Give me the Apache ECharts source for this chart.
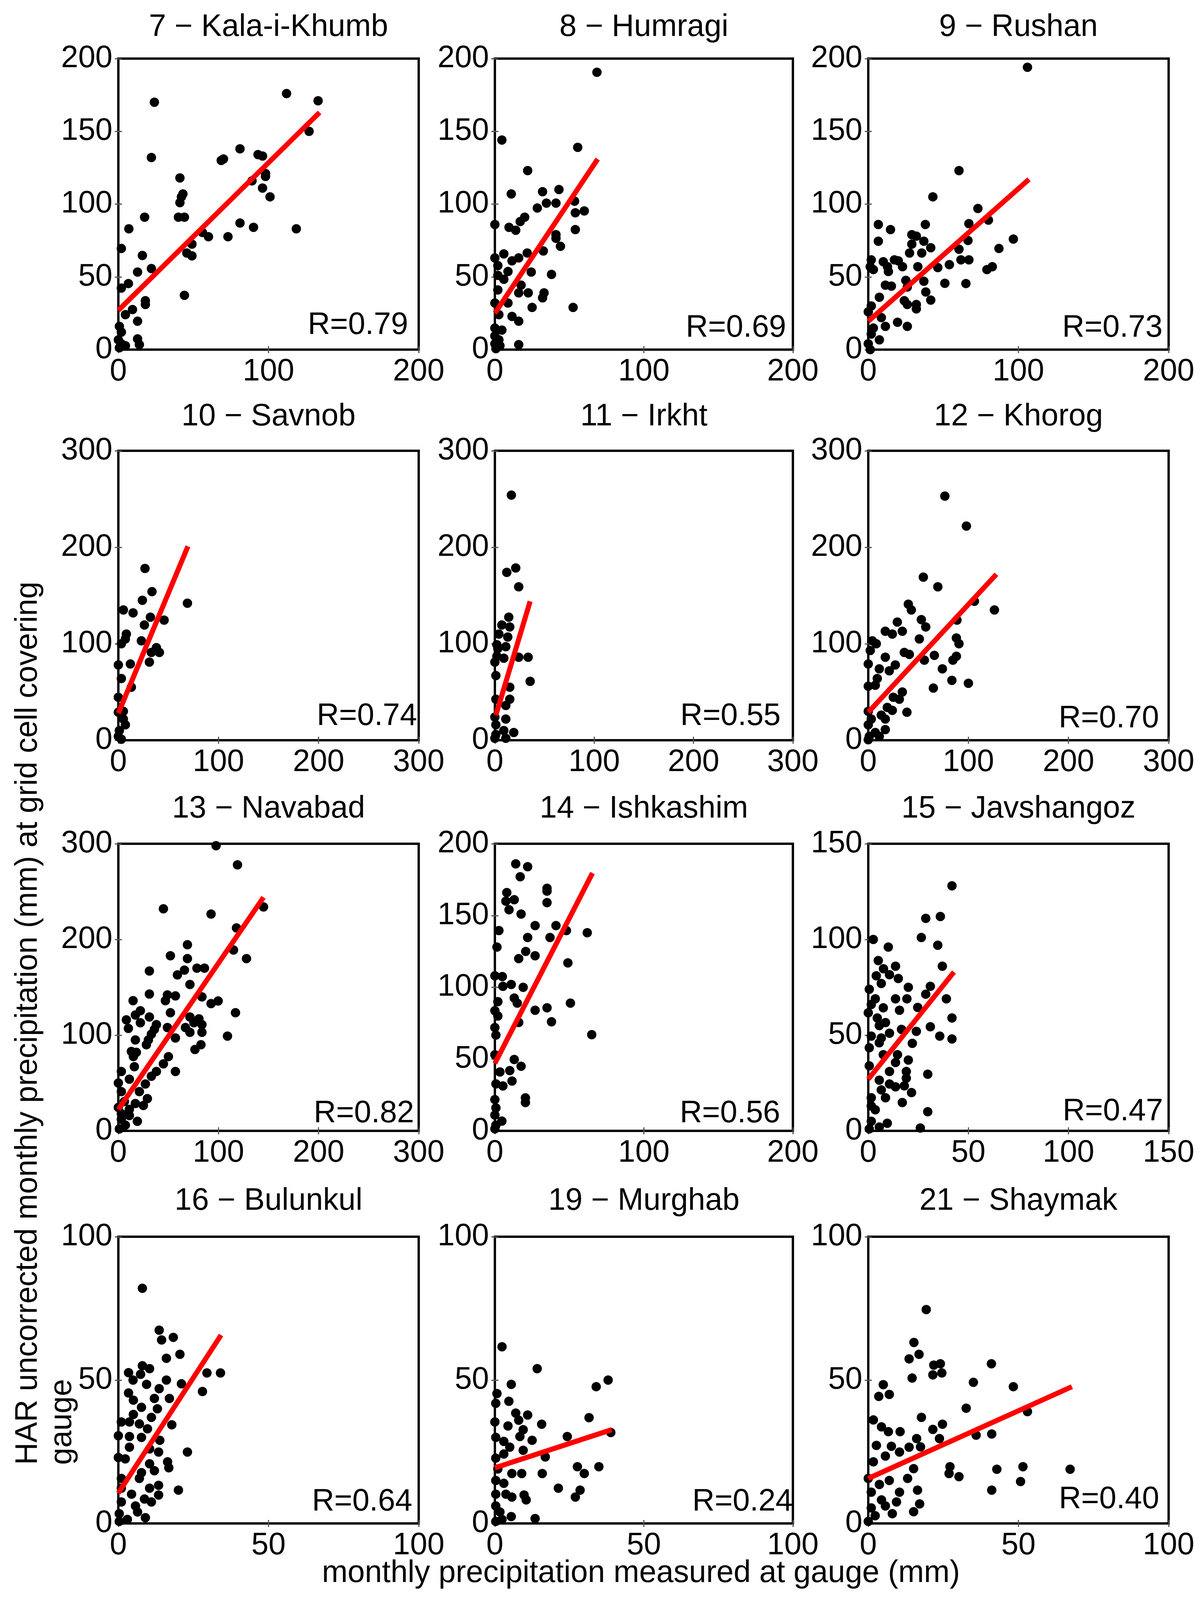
<!DOCTYPE html>
<html>
<head>
<meta charset="utf-8">
<title>HAR vs gauge monthly precipitation</title>
<script src="https://cdn.jsdelivr.net/npm/echarts@6/dist/echarts.min.js"></script>
<style>
	html, body { margin: 0; padding: 0; background: #fff; }
	#chart { width: 3080px; height: 4139px; }
</style>
</head>
<body>
<div id="chart"></div>
<script>
	// panels, left to right, top to bottom
	var stations = ['7 − Kala-i-Khumb', '8 − Humragi', '9 − Rushan',
		'10 − Savnob', '11 − Irkht', '12 − Khorog',
		'13 − Navabad', '14 − Ishkashim', '15 − Javshangoz',
		'16 − Bulunkul', '19 − Murghab', '21 − Shaymak'];
	var rValues = ['0.79', '0.69', '0.73', '0.74', '0.55', '0.70', '0.82', '0.56', '0.47', '0.64', '0.24', '0.40'];
	var xMax  = [200, 200, 200, 300, 300, 300, 300, 200, 150, 100, 100, 100];
	var xStep = [100, 100, 100, 100, 100, 100, 100, 100, 50, 50, 50, 50];
	var yMax  = [200, 200, 200, 300, 300, 300, 300, 200, 150, 100, 100, 100];
	var yStep = [50, 50, 50, 100, 100, 100, 100, 50, 50, 50, 50, 50];
	// where the R= text starts (data units, left / middle)
	var rLabelPos = [[126, 16.5], [128, 14.8], [129, 14.8], [198, 24.7], [186.5, 24.7], [190, 22.3],
		[195, 18], [124, 12], [97, 10], [64.4, 7.4], [66.2, 7.4], [63.4, 8.3]];

	// gauge (x) vs HAR (y), mm
	var pts7 = [[112,176],[133,171],[24,170],[127,150],[81,138],[22,132],[93,134],[96,133],[68.5,130],[70,131],
		[98,121],[98,119],[89,116],[41,118],[96,111],[101,105],[43,107],[42,105],[41,101],[17.5,91],[40,91],[44,91],
		[7,83],[81,87],[90,84],[118.5,83],[56,80.5],[60,77.6],[73,77.6],[49,72.5],[2,69.5],[16,64.7],[45.6,66.4],
		[49,64.4],[22,55.7],[12.8,53.3],[6.7,45.4],[2,42.3],[44,37.3],[18,33.6],[18,31],[9.4,27.5],[4.7,24],
		[12.8,19.5],[0.7,16],[2,12],[0,6.7],[2,4],[12.8,7.4],[14,3.4],[0.7,1.3],[4.7,2.7]];
	var pts8 = [[68.5,190.6],[4.7,144],[55.6,139],[22,123],[11,107],[32,108.5],[43,110],[34.6,100.7],[28.5,97.3],
		[41,100.7],[54,94],[60,95.3],[53.5,102],[20,91],[17,88],[0,86],[9.5,84],[14,82],[54,82.5],[41,79],[41,76.5],
		[44,71],[6,65.8],[0,63],[16,63],[21.7,66.4],[32.5,67.8],[11.5,61],[2,57.7],[8.8,53.7],[24.4,53.3],[38,51.7],
		[2,51],[6,48.3],[17.6,44.3],[2,41],[16,39],[22.4,39],[33,39],[32,35.6],[0,32],[8.8,32],[25,29],[52.5,29],
		[2.7,24],[11.5,22.8],[16,19.5],[0,14.8],[4.7,13.4],[0,9.4],[2.7,6.7],[0,4],[3.4,2.7],[16,3.4],[0.7,0.7]];
	var pts9 = [[106,194],[60.4,123],[43,105],[73,97],[6.7,86],[14.8,82.5],[38,86],[67,86.6],[80,89],[29,79],[32,78],
		[6.7,74.5],[37,74.5],[29,72.5],[41.6,70],[66.4,75],[96.6,76],[87,69.5],[27.5,66.4],[35.6,66.4],[60.4,69],
		[2,61.7],[10,60.4],[17.4,61.7],[20,61],[1.3,57],[12.8,57],[22.8,57],[3.4,55],[13.4,53.7],[33,57],[46.3,56.4],
		[54,58.4],[61.7,61.7],[67,61.7],[79,55],[82.6,57],[25,47.6],[37,47],[51,45.6],[65,45.4],[11.4,44.3],
		[15.4,43.6],[26,43],[38.3,39.6],[7.4,36],[24,33.6],[26,31],[32,31],[32,28],[41.6,34],[2,30],[0,26],[8.7,22],
		[19.5,18.8],[26,16],[11.4,16],[3.4,14.8],[7.4,6.7],[2,10.7],[0,4],[1.3,0]];
	var pts10 = [[26.6,178],[33.6,154],[24,145],[69,142],[5,135],[14.7,132],[32,127.5],[45.7,124.5],[26,119.4],
		[8,110],[7,105],[3,100],[23,103],[38,96],[33,91],[41,91],[31,81],[0,78],[12,79],[3,64],[13,55],[0,44.5],
		[0,29],[5,30],[5,22],[7,16],[1,10],[0,4],[3,1]];
	var pts11 = [[16.6,254],[21,178.5],[12,174],[24,159],[14,127.5],[7,119.4],[15,117.4],[4,110],[13,107],[3,95],
		[11,97],[2,99],[2,87],[9,85],[24,86],[33.5,86],[0,81],[1,67],[35.5,61],[15,55],[1,42.5],[15,42.5],[11,36],
		[0,24],[11,22],[1,16],[19,8],[9,10],[1,6],[0,2],[11,2]];
	var pts12 = [[76.5,253],[98,222],[55,169],[69.5,159],[40,141],[43,135],[106,144],[126,135],[29,122.5],[53,125],
		[57.4,117.4],[17,113],[24,110],[34,113],[88.6,124.5],[51,105],[88,106],[90.6,100],[4,103],[8,100],[2,93],
		[36,91],[41,89],[66,88],[88,87],[84.5,83],[56,83],[17,86],[0,79],[27,78],[11,74],[21,72],[74,74],[9,64],
		[0,56],[7,57],[83.5,62],[100,59],[65,54],[34,50],[25,44.5],[31,42.5],[19,34],[24,31],[38.6,29],[13,26],
		[17,22],[0,30],[3,22],[0,16],[17,11],[7,8],[1,4],[0,0.5],[11,4]];
	var pts13 = [[97.6,298],[119,278],[145,234],[45,232],[92.6,226.5],[118,212],[69,194.5],[115,189],[52,183],
		[69,180],[128,180],[78.5,170],[86,170],[66,168],[59,163],[31,167],[71.5,153],[31,143],[49,142],[57,141],
		[47,136],[83.5,140],[14.7,136],[92.6,133],[99.7,135.7],[22,125.5],[17,121],[52,123.5],[117,123.5],[31,119],
		[8,116],[22,113],[38,111],[71.5,119],[80.5,117],[75.5,113],[83.5,111],[10,107],[36,106],[67,108],[49,108],
		[71.5,103],[83.5,103],[33,101],[30,95],[57,97],[109,99],[17,95],[28,90],[82.5,90],[76.5,85],[13,83],[18,82],
		[15,77.6],[50,77.6],[45,70],[16,67],[57,62],[38,62],[3,62],[33,57],[11,54],[0,50],[27,49],[21,41],[29,33.7],
		[25,26.5],[17,28.6],[3,41],[6,30.6],[19,10],[11,16],[3,12],[7,6],[1,2],[0,24.5],[11,22.4],[3,18]];
	var pts14 = [[14,186],[22,184],[17,177],[35,169],[35,167],[8,166],[13,161],[7.4,160],[35,159],[9.5,154],
		[17.6,151],[27,143],[41,143],[2.7,139.5],[48,139.5],[62,138],[22,134.7],[37,134.7],[1.4,128],[20.7,125],
		[16,120],[27,122],[49,117],[0,108],[5,107.5],[5.4,100.7],[11,102],[19,100],[13,92.5],[15,89],[2,90],
		[50.7,89],[27,84],[35,85.7],[0,83.7],[2,80],[38,76],[16,75.5],[0,72],[0.7,66.7],[65,67],[0,53],[13,49.7],
		[17.6,45],[10,42],[3.4,41],[11.5,34.7],[0.7,32.7],[5.4,31.3],[20.5,23],[20.5,19.7],[0,21.8],[0.7,16],
		[4.7,6.8],[0,11],[0,1.4],[0.7,4]];
	var pts15 = [[41.8,128],[28.7,111],[36,112],[2.5,100],[26.5,101],[10,96],[34.7,97],[5,89],[13.6,86],[37,86],
		[7.6,84.7],[4,81],[10.6,81.6],[15,79.6],[6.5,77],[20,75],[31,75.5],[0.5,74],[28.7,71.4],[3.5,69],[13.6,69],
		[19.3,69],[39,69],[1.5,66],[24.7,64.5],[7.5,64.3],[15.6,63],[0,61.7],[4.5,59],[41.8,59],[8.6,56.6],[5.5,55],
		[31,54.4],[16.6,53],[24,52],[10.6,51],[1.5,49.5],[6.5,48.5],[35.7,49.5],[41.8,48],[22,45.7],[5.5,46],
		[0.5,43.4],[14.6,39.8],[7.5,39.8],[20,37],[13.6,35.7],[0.5,34],[19,31],[29.7,29.6],[10.6,31],[19,27.5],
		[5.5,26.5],[10.6,24.5],[13.6,23],[18,23.5],[21.6,20],[6.5,21.4],[8.6,17.3],[17,14.8],[1.5,17.3],[29.7,10],
		[3.5,11],[9.5,4],[26,1.5],[1.5,5],[0.5,1],[5.5,2],[1.5,13]];
	var pts16 = [[8,82],[13.6,67.4],[14.4,64],[18.3,64.9],[20.5,59],[16,57.6],[8,55],[10.4,54],[3.4,52.6],[7.4,52],
		[4.9,50],[16,50],[29.5,52.5],[34,52.5],[9.4,48.5],[13.6,47],[21,48.7],[28,46],[3.4,45.5],[5,43],[12,43.6],
		[17,43.6],[7.7,40.5],[13,40],[5,38],[11,37],[1,35.4],[3.7,35.4],[7,34.7],[17.8,34.4],[9.7,33],[0,30.6],
		[3.7,30.3],[7.7,30],[13.8,29],[10.4,26],[3.7,26.6],[13.4,24.9],[23,24.9],[0,23],[2.3,22.5],[16.4,21.5],
		[10.4,20.8],[12,18.4],[16.8,19.4],[7.7,17.7],[7,15.7],[1,15.7],[13.4,13.3],[10.4,12.3],[20,11.6],[13.4,9.9],
		[4.4,10.2],[8.7,8.5],[11,7.5],[5.7,6.1],[1,7.5],[9,2],[6.4,4],[0.3,3.4],[3,1.4],[0.3,0.7],[1,12.3]];
	var pts19 = [[2.4,61.6],[14.2,54],[5.5,48.5],[38,50],[34,47.7],[0.7,45.3],[4.7,42.6],[0.3,41.9],[7,38.5],
		[11,37.8],[31.6,36.9],[8,36],[0,35.4],[15.7,34.6],[4.4,34],[9.5,32.7],[0.3,30],[8.4,30.3],[12.5,29],[3,28.6],
		[5,26.6],[9.5,25.5],[24.3,30.3],[38.9,31.7],[3,24.2],[0.3,22.8],[16.9,23.2],[1,19],[5.7,17.4],[9,17.4],
		[15.9,17.4],[27.7,19.8],[30,17.4],[34.9,19.8],[3,14],[0.3,15],[21.3,12.3],[28.6,11.6],[27,9.2],[9.8,9.9],
		[5.7,9.2],[10.5,8.2],[3.7,10.2],[0.3,10.2],[0.3,6.1],[1.7,4],[5.5,2.4],[13.5,1.7],[0.3,0.7],[2.4,1.4]];
	var pts21 = [[19.3,74.6],[15.2,63.1],[16.9,59],[13.6,57.4],[21.8,55.2],[24,55.7],[24.5,52.5],[21.5,51.8],
		[14.6,50.7],[41,55.7],[35,49.2],[48.3,47.7],[5,48.4],[7,45],[3.5,44.3],[32.6,40.2],[53,39],[17.7,37],[1.7,36.1],
		[24.7,34.6],[4.4,33.7],[6.7,32],[10.6,32],[21.5,32.8],[16.1,29.6],[23.7,29.6],[35.9,30.8],[41.1,31.2],
		[2.7,27.2],[7.7,26.9],[13.6,26.6],[17.4,26.7],[10.4,24.9],[5.7,23.5],[1.7,21.5],[27.2,19.8],[42.8,18.9],
		[51.5,19.8],[67.2,18.9],[15.1,19.1],[26.9,17.4],[30.2,16.3],[50.7,14.6],[41.1,11.6],[0,15.7],[13.1,15.7],
		[7,15],[3.7,13.6],[16.4,11.6],[10.4,10.9],[1,10.9],[17.1,6.8],[9.4,7.5],[4.4,8.2],[15.1,4.1],[8,3.4],[1,5.4],
		[2.3,2.7],[0,0.7],[5.7,6.1]];

	// regression lines as drawn (end points)
	var fit7 = [[0,27],[134,163]];
	var fit8 = [[0,25],[69,131]];
	var fit9 = [[0,19.5],[107,117]];
	var fit10 = [[0,28],[69.5,201]];
	var fit11 = [[1,26],[35.5,144]];
	var fit12 = [[0,29],[128,172]];
	var fit13 = [[0,22.4],[145,244]];
	var fit14 = [[0,47],[65.5,179.6]];
	var fit15 = [[0,27],[42.8,83]];
	var fit16 = [[0,10.6],[34.2,65.7]];
	var fit19 = [[0,19.4],[39.2,32.7]];
	var fit21 = [[0,15.7],[67.8,47.7]];

	var points = [pts7, pts8, pts9, pts10, pts11, pts12, pts13, pts14, pts15, pts16, pts19, pts21];
	var fits = [fit7, fit8, fit9, fit10, fit11, fit12, fit13, fit14, fit15, fit16, fit19, fit21];

	var fontFamily = '"Liberation Sans", Arial, Helvetica, sans-serif';
	var fontSize = 79;
	var font = fontSize + 'px ' + fontFamily;

	var colLeft = [303, 1267, 2223];
	var colWidth = [769, 763, 769];
	var rowTop = [150, 1154, 2160, 3166];
	var rowHeight = [745, 741, 735, 734];
	var titleY = [70, 1067, 2071, 3075];

	var grids = [], xAxes = [], yAxes = [], series = [], graphics = [];
	var tick = {show: true, inside: true, length: 9, lineStyle: {color: '#555', width: 3}};

	for (var i = 0; i < stations.length; i++) {
		var r = Math.floor(i / 3), c = i % 3;
		grids.push({
			left: colLeft[c], top: rowTop[r], width: colWidth[c], height: rowHeight[r],
			show: true, borderColor: '#000', borderWidth: 6, backgroundColor: '#fff',
			containLabel: false, outerBoundsMode: 'none'
		});
		var label = {fontSize: fontSize, fontFamily: fontFamily, color: '#000', showMinLabel: true, showMaxLabel: true};
		// bottom / left axes with labels, top / right mirrors with ticks only
		xAxes.push({gridIndex: i, type: 'value', position: 'bottom', min: 0, max: xMax[i], interval: xStep[i],
			axisLine: {show: false}, axisTick: tick, splitLine: {show: false},
			axisLabel: Object.assign({margin: 18}, label)});
		xAxes.push({gridIndex: i, type: 'value', position: 'top', min: 0, max: xMax[i], interval: xStep[i],
			axisLine: {show: false}, axisTick: tick, splitLine: {show: false}, axisLabel: {show: false}});
		yAxes.push({gridIndex: i, type: 'value', position: 'left', min: 0, max: yMax[i], interval: yStep[i],
			axisLine: {show: false}, axisTick: tick, splitLine: {show: false},
			axisLabel: Object.assign({margin: 15}, label)});
		yAxes.push({gridIndex: i, type: 'value', position: 'right', min: 0, max: yMax[i], interval: yStep[i],
			axisLine: {show: false}, axisTick: tick, splitLine: {show: false}, axisLabel: {show: false}});

		series.push({
			type: 'scatter', xAxisIndex: 2 * i, yAxisIndex: 2 * i,
			data: points[i], symbolSize: 24, clip: false, silent: true,
			itemStyle: {color: '#000', opacity: 1}, z: 2
		});
		series.push({
			type: 'line', xAxisIndex: 2 * i, yAxisIndex: 2 * i,
			data: fits[i], symbol: 'none', clip: false, silent: true,
			lineStyle: {color: '#ff0000', width: 13, opacity: 1}, z: 3
		});
		series.push({
			type: 'scatter', xAxisIndex: 2 * i, yAxisIndex: 2 * i,
			data: [rLabelPos[i]], symbolSize: 1, clip: false, silent: true,
			itemStyle: {color: '#fff', opacity: 0}, z: 4,
			label: {show: true, position: 'right', distance: 0, formatter: 'R=' + rValues[i], opacity: 1,
				fontSize: fontSize, fontFamily: fontFamily, color: '#000', align: 'left', verticalAlign: 'middle'}
		});

		graphics.push({
			type: 'text', x: colLeft[c] + colWidth[c] / 2, y: titleY[r],
			style: {text: stations[i], font: font, fill: '#000', textAlign: 'center', textVerticalAlign: 'middle',
				align: 'center', verticalAlign: 'middle'}
		});
	}

	// shared axis titles
	graphics.push({
		type: 'text', x: 72, y: 3750, rotation: Math.PI / 2,
		style: {text: 'HAR uncorrected monthly precipitation (mm) at grid cell covering', font: font, fill: '#000',
			textAlign: 'left', textVerticalAlign: 'middle', align: 'left', verticalAlign: 'middle'}
	});
	graphics.push({
		type: 'text', x: 160, y: 3750, rotation: Math.PI / 2,
		style: {text: 'gauge', font: font, fill: '#000',
			textAlign: 'left', textVerticalAlign: 'middle', align: 'left', verticalAlign: 'middle'}
	});
	graphics.push({
		type: 'text', x: 1641, y: 4028,
		style: {text: 'monthly precipitation measured at gauge (mm)', font: font, fill: '#000',
			textAlign: 'center', textVerticalAlign: 'middle', align: 'center', verticalAlign: 'middle'}
	});

	var myChart = echarts.init(document.getElementById('chart'));
	myChart.setOption({
		backgroundColor: '#fff',
		animation: false,
		grid: grids,
		xAxis: xAxes,
		yAxis: yAxes,
		series: series,
		graphic: graphics
	});
</script>
</body>
</html>
